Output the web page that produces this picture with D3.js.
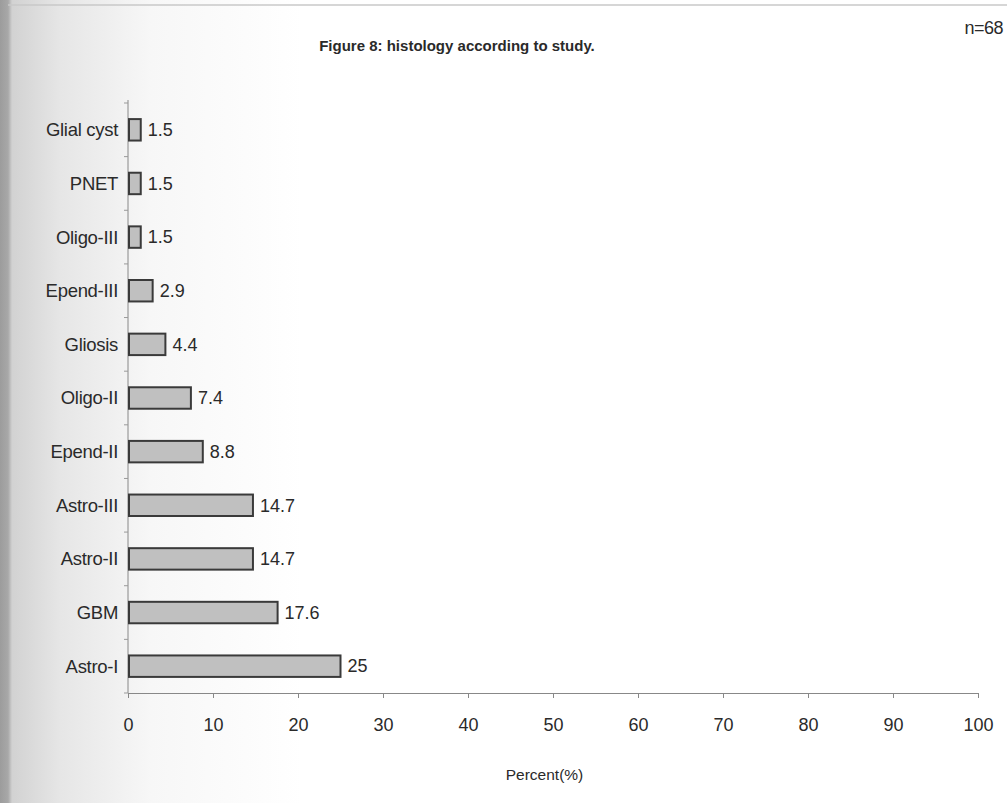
<!DOCTYPE html>
<html>
<head>
<meta charset="utf-8">
<script src="https://cdn.jsdelivr.net/npm/d3@7"></script>
<style>
  body { margin: 0; background: #fff; }
  svg text { font-family: "Liberation Sans", Arial, sans-serif; fill: #2a2a2a; }
</style>
</head>
<body>
<svg width="1007" height="803"></svg>
<script>
// chart data
const categories = ["Glial cyst", "PNET", "Oligo-III", "Epend-III", "Gliosis", "Oligo-II",
  "Epend-II", "Astro-III", "Astro-II", "GBM", "Astro-I"];
const percents = [1.5, 1.5, 1.5, 2.9, 4.4, 7.4, 8.8, 14.7, 14.7, 17.6, 25];
const valueLabels = ["1.5", "1.5", "1.5", "2.9", "4.4", "7.4", "8.8", "14.7", "14.7", "17.6", "25"];
const xTicks = [0, 10, 20, 30, 40, 50, 60, 70, 80, 90, 100];

var svg = d3.select("svg");

// scanned page shading on the left side
var defs = svg.append("defs");
var grad = defs.append("linearGradient").attr("id", "shade");
grad.append("stop").attr("offset", "0").attr("stop-color", "#9c9c9c");
grad.append("stop").attr("offset", "0.008").attr("stop-color", "#a8a8a8");
grad.append("stop").attr("offset", "0.012").attr("stop-color", "#d2d2d2");
grad.append("stop").attr("offset", "0.06").attr("stop-color", "#e6e6e6");
grad.append("stop").attr("offset", "0.15").attr("stop-color", "#f7f7f7");
grad.append("stop").attr("offset", "0.3").attr("stop-color", "#ffffff");
svg.append("rect").attr("width", 1007).attr("height", 803).attr("fill", "url(#shade)");
svg.append("line")
  .attr("x1", 8).attr("x2", 1007).attr("y1", 5).attr("y2", 5)
  .attr("stroke", "#c8c8c8").attr("stroke-width", 1.5);

var margin = { left: 128, right: 29, top: 103, bottom: 110 };
var width = 1007 - margin.left - margin.right;
var height = 803 - margin.top - margin.bottom;

const g = svg.append("g").attr("transform", `translate(${margin.left},${margin.top})`);

var x = d3.scaleLinear().domain([0, 100]).range([0, width]);
var y = d3.scaleBand().domain(categories).range([0, height]).paddingInner(0.6).paddingOuter(0.3);
var yEdges = d3.scaleLinear().domain([0, categories.length]).range([0, height]);

// y axis line and boundary ticks
g.append("line").attr("x1", 0).attr("x2", 0).attr("y1", -3).attr("y2", height)
  .attr("stroke", "#888").attr("stroke-width", 1);
g.selectAll(".ytick")
  .data(d3.range(categories.length + 1))
  .enter()
  .append("line")
  .attr("x1", -4).attr("x2", 0)
  .attr("y1", (d) => yEdges(d)).attr("y2", (d) => yEdges(d))
  .attr("stroke", "#999");

g.selectAll(".ylabel")
  .data(categories)
  .enter()
  .append("text")
  .attr("x", -10)
  .attr("y", (d) => y(d) + y.bandwidth() / 2)
  .attr("dy", "0.35em")
  .attr("text-anchor", "end")
  .style("font-size", "18.5px")
  .style("letter-spacing", "-0.3px")
  .text((d) => d);

// x axis
var xAxis = d3.axisBottom(x).tickValues(xTicks).tickSize(5).tickPadding(20);
var ax = g.append("g").attr("transform", `translate(0,${height})`).call(xAxis);
ax.select(".domain").attr("stroke", "#888");
ax.selectAll(".tick line").attr("stroke", "#888");
ax.selectAll(".tick text").style("font-size", "18px").attr("fill", "#2a2a2a")
  .style("font-family", "'Liberation Sans', Arial, sans-serif");

// bars
g.selectAll(".bar")
  .data(categories)
  .enter()
  .append("rect")
  .attr("x", 1)
  .attr("y", (d) => y(d))
  .attr("width", (d, i) => x(percents[i]) - 1)
  .attr("height", y.bandwidth())
  .attr("fill", "#c0c0c0")
  .attr("stroke", "#3a3a3a")
  .attr("stroke-width", 2);

g.selectAll(".val")
  .data(categories)
  .enter()
  .append("text")
  .attr("x", (d, i) => x(percents[i]) + 7)
  .attr("y", (d) => y(d) + y.bandwidth() / 2)
  .attr("dy", "0.35em")
  .style("font-size", "18px")
  .text((d, i) => valueLabels[i]);

// titles
svg.append("text")
  .attr("x", 457).attr("y", 51)
  .attr("text-anchor", "middle")
  .style("font-size", "15px").style("font-weight", "bold")
  .text("Figure 8: histology according to study.");

svg.append("text")
  .attr("x", 1003).attr("y", 34)
  .attr("text-anchor", "end")
  .style("font-size", "18px")
  .style("letter-spacing", "-0.5px")
  .text("n=68");

svg.append("text")
  .attr("x", margin.left + x(49)).attr("y", 780)
  .attr("text-anchor", "middle")
  .style("font-size", "15.5px")
  .text("Percent(%)");
</script>
</body>
</html>
